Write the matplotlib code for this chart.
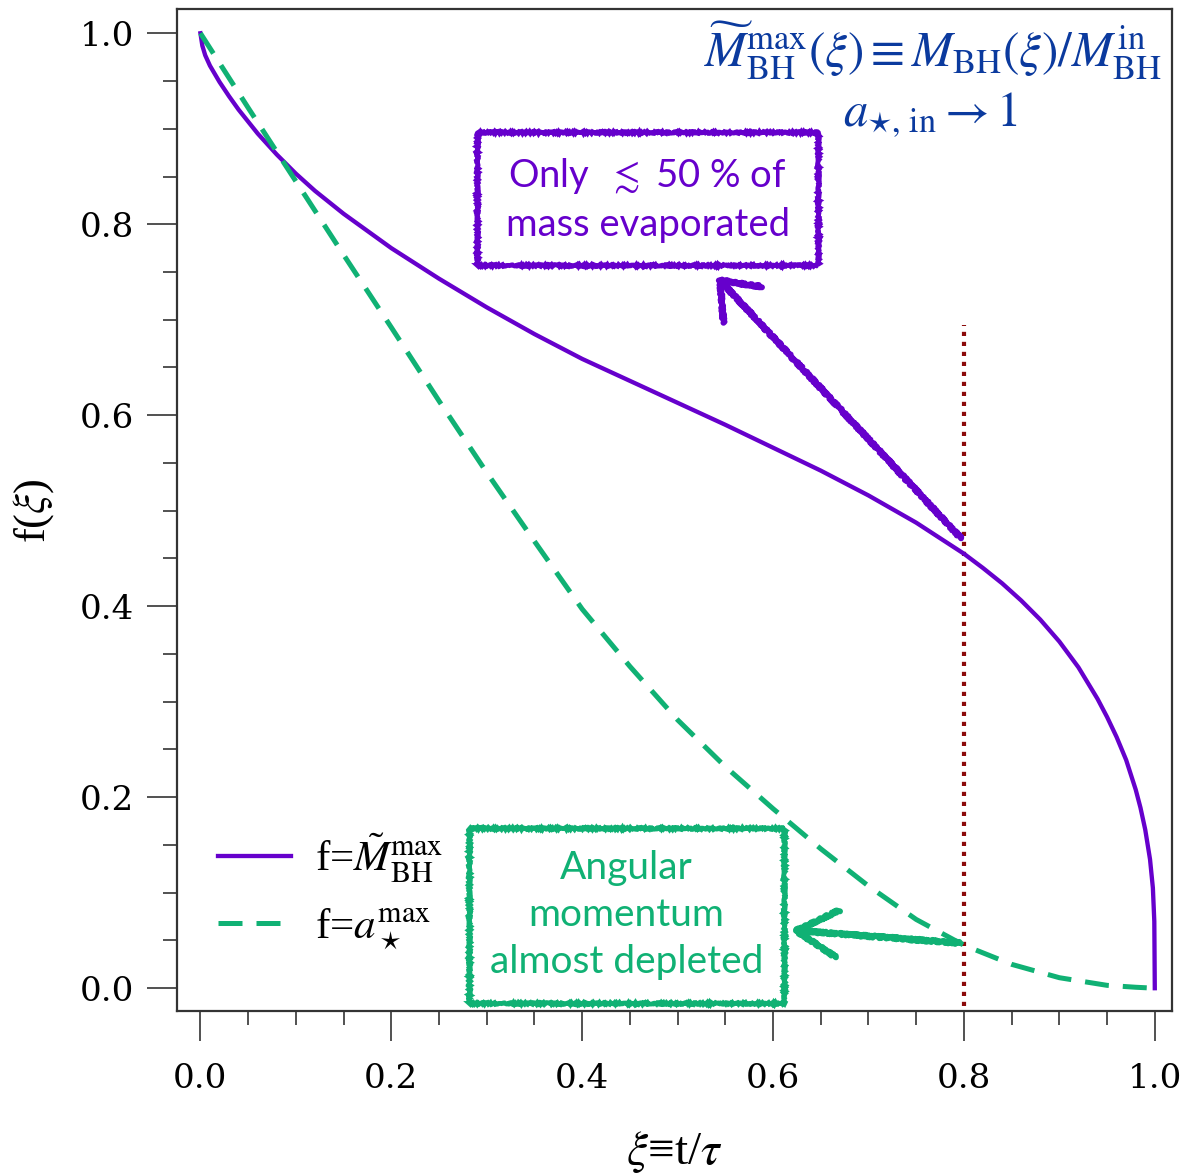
import numpy as np
import matplotlib
matplotlib.use("Agg")
import matplotlib.pyplot as plt
from matplotlib.patches import Rectangle, FancyArrowPatch
from matplotlib.ticker import MultipleLocator

plt.rcParams['font.family'] = ['Liberation Serif', 'DejaVu Serif']
plt.rcParams['mathtext.fontset'] = 'stix'

# values
xi_mass = [0.0, 0.002, 0.005, 0.01, 0.02, 0.03, 0.04, 0.06, 0.08, 0.1, 0.12, 0.15,
           0.2, 0.25, 0.3, 0.35, 0.4, 0.45, 0.5, 0.55, 0.6, 0.65, 0.7, 0.75, 0.8,
           0.82, 0.84, 0.86, 0.88, 0.9, 0.92, 0.94, 0.95, 0.96, 0.97, 0.98, 0.985,
           0.99, 0.995, 0.998, 0.9995, 1.0]
f_mass = [1.0, 0.987, 0.977, 0.966, 0.949, 0.934, 0.920, 0.895, 0.873, 0.853, 0.835, 0.811,
          0.775, 0.743, 0.713, 0.685, 0.659, 0.636, 0.613, 0.590, 0.566, 0.542, 0.516, 0.4875, 0.455,
          0.440, 0.424, 0.406, 0.386, 0.363, 0.336, 0.303, 0.284, 0.263, 0.239, 0.208, 0.189,
          0.166, 0.135, 0.105, 0.07, 0.0]

xi_spin = [0.0, 0.05, 0.1, 0.15, 0.2, 0.25, 0.3, 0.35, 0.4, 0.45, 0.5, 0.55, 0.6,
           0.65, 0.7, 0.75, 0.8, 0.85, 0.9, 0.95, 0.98, 1.0]
f_spin = [1.0, 0.922, 0.845, 0.768, 0.692, 0.615, 0.540, 0.468, 0.397, 0.337, 0.281, 0.232, 0.188,
          0.146, 0.107, 0.072, 0.045, 0.025, 0.011, 0.003, 0.001, 0.0]

xi_mark = 0.8
mark_top = 0.694

purple = '#6600cc'
green = '#10b174'
darkred = '#8b0a0a'
blue = '#0b3a9e'

fig = plt.figure(figsize=(11.85, 11.73), dpi=100)
ax = fig.add_axes([0.149, 0.138, 0.84, 0.854])

ax.plot(xi_mass, f_mass, color=purple, lw=3.1, label=r'f=$\tilde{M}^{\rm max}_{\rm BH}$', zorder=3)
ax.plot(xi_spin, f_spin, color=green, lw=3.6, dashes=(4.8, 2.8),
        label=r'f=$a_\star^{\rm max}$', zorder=3)
ax.plot([xi_mark, xi_mark], [-0.05, mark_top], color=darkred, lw=3, dashes=(1, 1.4), zorder=2)

ax.set_xlim(-0.025, 1.018)
ax.set_ylim(-0.024, 1.025)
ax.xaxis.set_major_locator(MultipleLocator(0.2))
ax.xaxis.set_minor_locator(MultipleLocator(0.05))
ax.yaxis.set_major_locator(MultipleLocator(0.2))
ax.yaxis.set_minor_locator(MultipleLocator(0.05))
ax.tick_params(which='both', direction='out', width=1.1, color='#222222', labelsize=24.5)
ax.tick_params(which='major', length=21.5)
ax.tick_params(which='minor', length=10)
ax.tick_params(axis='x', which='major', pad=16)
ax.tick_params(axis='y', which='major', pad=9)
for lab in ax.get_xticklabels() + ax.get_yticklabels():
    lab.set_family('DejaVu Serif')
for s in ax.spines.values():
    s.set_linewidth(1.6)
    s.set_color('#333333')

ax.set_xlabel(r'$\xi$≡t/$\tau$', fontsize=34, labelpad=24)
ax.set_ylabel(r'f($\xi$)', fontsize=32, labelpad=17)

# top right caption
ax.text(0.767, 0.982, r'$\widetilde{M}^{\rm max}_{\rm BH}(\xi) \equiv M_{\rm BH}(\xi)/M^{\rm in}_{\rm BH}$',
        color=blue, fontsize=35.5, ha='center', va='center')
ax.text(0.765, 0.914, r'$a_{\star,\,\rm in} \to 1$', color=blue, fontsize=35,
        ha='center', va='center')

# sketchy boxes
box1 = Rectangle((0.290, 0.757), 0.357, 0.140, fill=False, ec=purple, lw=3.5, zorder=4)
box1.set_sketch_params(0.9, 2, 2)
ax.add_patch(box1)
ax.text(0.4686, 0.826, 'Only  $\\lesssim$ 50 % of\nmass evaporated', color=purple,
        family=['Lato', 'DejaVu Sans'], fontsize=27.5, ha='center', va='center',
        linespacing=1.36, zorder=5)

box2 = Rectangle((0.281, -0.016), 0.331, 0.184, fill=False, ec=green, lw=3.5, zorder=4)
box2.set_sketch_params(0.9, 2, 2)
ax.add_patch(box2)
ax.text(0.4465, 0.077, 'Angular\nmomentum\nalmost depleted', color=green,
        family=['Lato', 'DejaVu Sans'], fontsize=28, ha='center', va='center',
        linespacing=1.38, zorder=5)

# sketchy arrows
arr1 = FancyArrowPatch((0.799, 0.469), (0.539, 0.747), arrowstyle='->,head_length=1.2,head_width=0.95',
                       mutation_scale=20, color=purple, lw=4.3, zorder=5)
arr1.set_sketch_params(1.2, 2.5, 2)
ax.add_patch(arr1)
arr2 = FancyArrowPatch((0.799, 0.047), (0.615, 0.061), arrowstyle='->,head_length=1.5,head_width=0.85',
                       mutation_scale=20, color=green, lw=4.3, zorder=5)
arr2.set_sketch_params(1.2, 2.5, 2)
ax.add_patch(arr2)

ax.legend(loc='lower left', bbox_to_anchor=(0.02, 0.038), frameon=False, fontsize=31,
          handlelength=1.7, handletextpad=0.55, labelspacing=0.5, borderpad=0)

fig.savefig('out.png', dpi=100)
